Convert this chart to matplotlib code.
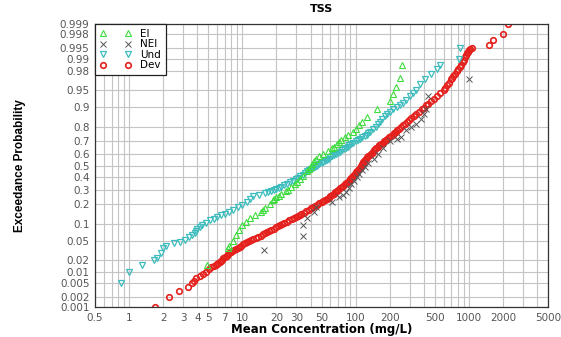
import math
import numpy as np
import matplotlib
matplotlib.use("Agg")
import matplotlib.pyplot as plt
from matplotlib.ticker import FixedLocator, NullLocator, NullFormatter, FixedFormatter

# ---- data (concentration mg/L, exceedance probability) ----
ei_conc = [4.9, 7.4, 7.6, 8.2, 8.8, 9.3, 10, 10.8, 11.8, 13, 14.5, 15.2, 16, 17.5,
           18.5, 19, 20, 21, 22, 24.5, 25.5, 27, 29, 30.5, 32, 34.5, 37, 38.5, 40,
           41.5, 43, 45, 48, 52, 57, 62, 64, 68, 71, 75, 80, 85, 95, 100, 108, 115,
           125, 155, 200, 215, 228, 245, 255]
ei_prob = [0.015, 0.035, 0.040, 0.050, 0.065, 0.080, 0.097, 0.11, 0.125, 0.14, 0.155,
           0.165, 0.175, 0.20, 0.225, 0.235, 0.245, 0.255, 0.265, 0.29, 0.30, 0.32,
           0.345, 0.36, 0.38, 0.41, 0.45, 0.47, 0.49, 0.51, 0.54, 0.555, 0.58, 0.60,
           0.625, 0.65, 0.66, 0.68, 0.695, 0.71, 0.73, 0.75, 0.77, 0.79, 0.81, 0.83,
           0.855, 0.89, 0.92, 0.94, 0.957, 0.972, 0.986]

nei_conc = [15.5, 34, 34, 37, 43, 45, 62, 72, 77, 82, 88, 92, 97, 103, 108, 115, 122,
            130, 145, 158, 175, 200, 230, 250, 280, 310, 340, 380, 400, 420, 440, 1000]
nei_prob = [0.033, 0.062, 0.097, 0.125, 0.155, 0.18, 0.21, 0.245, 0.26, 0.28, 0.31,
            0.34, 0.37, 0.40, 0.43, 0.46, 0.49, 0.52, 0.56, 0.60, 0.65, 0.70, 0.72,
            0.735, 0.78, 0.80, 0.82, 0.845, 0.87, 0.89, 0.935, 0.97]

und_conc = [0.85, 1.0, 1.3, 1.65, 1.75, 1.9, 2.0, 2.1, 2.5, 2.8, 3.1, 3.4, 3.6, 3.8,
            3.9, 4.0, 4.2, 4.4, 4.8, 5.2, 5.6, 6.0, 6.5, 7.0, 7.6, 8.3, 9.1, 10, 11,
            11.7, 12.5, 14, 16, 18, 20, 22, 25, 28, 31, 34, 37, 40, 44, 48, 52, 56, 60,
            65, 70, 76, 82, 88, 95, 105, 115, 125, 135, 150, 165, 180, 200, 230, 260,
            300, 340, 370, 410, 460, 520, 560, 820, 830,
            17, 19, 21, 23.5, 26.5, 29.5, 32.5, 35.5, 38.5, 42, 46, 50, 54, 58, 62.5,
            67.5, 73, 79, 85, 91.5, 100, 110, 120, 130, 142, 157, 172, 190, 215, 245,
            280, 320]
und_prob = [0.005, 0.010, 0.015, 0.020, 0.022, 0.028, 0.035, 0.040, 0.045, 0.048,
            0.052, 0.058, 0.064, 0.070, 0.076, 0.082, 0.090, 0.097, 0.105, 0.115,
            0.122, 0.130, 0.138, 0.145, 0.155, 0.165, 0.180, 0.195, 0.215, 0.235,
            0.250, 0.26, 0.275, 0.29, 0.305, 0.32, 0.345, 0.37, 0.395, 0.42, 0.45,
            0.47, 0.49, 0.51, 0.53, 0.55, 0.57, 0.59, 0.61, 0.63, 0.65, 0.67, 0.69,
            0.71, 0.73, 0.75, 0.77, 0.80, 0.83, 0.86, 0.88, 0.90, 0.915, 0.935, 0.950,
            0.963, 0.970, 0.977, 0.982, 0.986, 0.990, 0.995,
            0.283, 0.298, 0.312, 0.333, 0.358, 0.383, 0.408, 0.435, 0.46, 0.48, 0.50,
            0.52, 0.54, 0.56, 0.58, 0.60, 0.62, 0.64, 0.66, 0.68, 0.70, 0.72, 0.74,
            0.76, 0.785, 0.815, 0.845, 0.87, 0.89, 0.908, 0.925, 0.943]

dev_conc = [1.7, 2.25, 2.75, 3.3, 3.6, 3.75, 3.9, 4.2, 4.5, 4.8, 5.1, 5.6, 6.0, 6.3,
            6.6, 7.0, 7.5, 7.9, 8.4, 9.1, 9.8, 10.6, 11.4, 12.5, 13.8, 15.2, 16.5, 18,
            19.8, 21.3, 23.5, 26, 28.5, 31, 33, 36.5, 40.5, 44, 48, 52, 56, 60, 64, 68,
            73, 78, 83, 87, 91, 95, 99, 103, 107, 111, 114, 117, 121, 127, 133, 139,
            145, 152, 162, 173, 185, 198, 212, 226, 243, 262, 285, 310, 345, 385, 420,
            460, 520, 600, 640, 690, 720, 780, 830, 890, 930, 970, 1000, 1060, 1500,
            1650, 2000, 2200,
            5.3, 5.8, 6.15, 6.45, 6.8, 7.25, 7.7, 8.15, 8.75, 9.45, 10.2, 11.0, 11.9,
            13.1, 14.5, 15.8, 17.2, 18.9, 20.5, 22.4, 24.7, 27.2, 29.7, 32, 34.7, 38.5,
            42.2, 46, 50, 54, 58, 62, 66, 70.5, 75.5, 80.5, 85, 89, 93, 97, 101, 105,
            109, 112.5, 115.5, 119, 124, 130, 136, 142, 148.5, 157, 167, 179, 191, 205,
            219, 234, 252, 273, 297, 327, 365, 402, 440, 490, 560, 620, 665, 705, 750,
            805, 860, 910, 950, 985, 1030]
dev_prob = [0.001, 0.002, 0.003, 0.004, 0.005, 0.006, 0.007, 0.008, 0.009, 0.010,
            0.012, 0.014, 0.016, 0.018, 0.020, 0.023, 0.026, 0.029, 0.032, 0.036,
            0.040, 0.045, 0.050, 0.055, 0.060, 0.066, 0.072, 0.080, 0.088, 0.096,
            0.105, 0.115, 0.125, 0.135, 0.145, 0.16, 0.175, 0.19, 0.205, 0.22, 0.235,
            0.25, 0.27, 0.29, 0.31, 0.33, 0.35, 0.37, 0.39, 0.41, 0.43, 0.45, 0.47,
            0.49, 0.51, 0.53, 0.55, 0.57, 0.59, 0.61, 0.63, 0.65, 0.67, 0.69, 0.71,
            0.73, 0.75, 0.77, 0.79, 0.81, 0.83, 0.85, 0.87, 0.89, 0.905, 0.92, 0.935,
            0.95, 0.96, 0.97, 0.975, 0.98, 0.984, 0.988, 0.991, 0.993, 0.994, 0.995,
            0.9957, 0.997, 0.998, 0.999,
            0.013, 0.015, 0.017, 0.019, 0.0215, 0.0245, 0.0275, 0.0305, 0.034, 0.038,
            0.0425, 0.0475, 0.0525, 0.0575, 0.063, 0.069, 0.076, 0.084, 0.092, 0.10,
            0.11, 0.12, 0.13, 0.14, 0.152, 0.167, 0.182, 0.197, 0.212, 0.227, 0.242,
            0.26, 0.28, 0.30, 0.32, 0.34, 0.36, 0.38, 0.40, 0.42, 0.44, 0.46, 0.48,
            0.50, 0.52, 0.54, 0.56, 0.58, 0.60, 0.62, 0.64, 0.66, 0.68, 0.70, 0.72,
            0.74, 0.76, 0.78, 0.80, 0.82, 0.84, 0.86, 0.88, 0.897, 0.912, 0.927, 0.943,
            0.955, 0.965, 0.9725, 0.9775, 0.982, 0.986, 0.9895, 0.992, 0.9935, 0.9945]

x_ticks = [0.5, 1, 2, 3, 4, 5, 7, 10, 20, 30, 50, 100, 200, 500, 1000, 2000, 5000]
x_tick_labels = ["0.5", "1", "2", "3", "4", "5", "7", "10", "20", "30", "50", "100",
                 "200", "500", "1000", "2000", "5000"]
y_ticks = [0.001, 0.002, 0.005, 0.01, 0.02, 0.05, 0.1, 0.2, 0.3, 0.4, 0.5, 0.6, 0.7,
           0.8, 0.9, 0.95, 0.98, 0.99, 0.995, 0.998, 0.999]


# ---- normal probability scale (Acklam inverse normal) ----
_A = [-3.969683028665376e+01, 2.209460984245205e+02, -2.759285104469687e+02,
      1.383577518672690e+02, -3.066479806614716e+01, 2.506628277459239e+00]
_B = [-5.447609879822406e+01, 1.615858368580409e+02, -1.556989798598866e+02,
      6.680131188771972e+01, -1.328068155288572e+01]
_C = [-7.784894002430293e-03, -3.223964580411365e-01, -2.400758277161838e+00,
      -2.549732539343734e+00, 4.374664141464968e+00, 2.938163982698783e+00]
_D = [7.784695709041462e-03, 3.224671290700398e-01, 2.445134137142996e+00,
      3.754408661907416e+00]


def ppf(p):
    p = np.clip(np.asarray(p, dtype=float), 1e-9, 1 - 1e-9)
    plow = 0.02425
    # tails
    ql = np.sqrt(-2 * np.log(np.minimum(p, 1 - p)))
    tail = ((((((_C[0] * ql + _C[1]) * ql + _C[2]) * ql + _C[3]) * ql + _C[4]) * ql + _C[5])
            / ((((_D[0] * ql + _D[1]) * ql + _D[2]) * ql + _D[3]) * ql + 1))
    tail = np.where(p < 0.5, tail, -tail)
    # centre
    q = p - 0.5
    r = q * q
    mid = ((((((_A[0] * r + _A[1]) * r + _A[2]) * r + _A[3]) * r + _A[4]) * r + _A[5]) * q
           / (((((_B[0] * r + _B[1]) * r + _B[2]) * r + _B[3]) * r + _B[4]) * r + 1))
    return np.where((p < plow) | (p > 1 - plow), tail, mid)


_erf = np.vectorize(math.erf)


def cdf(z):
    z = np.asarray(z, dtype=float)
    return 0.5 * (1 + _erf(z / math.sqrt(2)))


fig = plt.figure(figsize=(5.61, 3.37), dpi=100)
ax = fig.add_axes([95 / 561, 30 / 337, 453 / 561, 283 / 337])

ax.set_xscale("log")
ax.set_yscale("function", functions=(ppf, cdf))

ax.plot(ei_conc, ei_prob, ls="none", marker="^", ms=4, mfc="none", mec="#3ddc3d",
        mew=0.8, label="EI", zorder=4)
ax.plot(nei_conc, nei_prob, ls="none", marker="x", ms=4, color="#555555",
        mew=0.7, label="NEI", zorder=5)
ax.plot(und_conc, und_prob, ls="none", marker="v", ms=4, mfc="none", mec="#3cbcbc",
        mew=0.9, label="Und", zorder=3)
ax.plot(dev_conc, dev_prob, ls="none", marker="o", ms=4, mfc="none", mec="#e5201c",
        mew=1.2, label="Dev", zorder=2)

ax.set_xlim(0.5, 5000)
ax.set_ylim(0.001, 0.999)

ax.xaxis.set_major_locator(FixedLocator(x_ticks))
ax.xaxis.set_major_formatter(FixedFormatter(x_tick_labels))
minor_x = [m * 10.0 ** e for e in range(-1, 4) for m in range(1, 10)
           if 0.5 <= m * 10.0 ** e <= 5000]
ax.xaxis.set_minor_locator(FixedLocator(minor_x))
ax.xaxis.set_minor_formatter(NullFormatter())
ax.yaxis.set_major_locator(FixedLocator(y_ticks))
ax.yaxis.set_major_formatter(FixedFormatter([f"{v:g}" for v in y_ticks]))
ax.yaxis.set_minor_locator(NullLocator())

ax.grid(which="both", axis="x", color="#c4c4c4", lw=0.8)
ax.grid(which="major", axis="y", color="#c4c4c4", lw=0.8)
ax.set_axisbelow(True)
ax.tick_params(which="both", length=0, labelsize=7.5, labelcolor="#555555", pad=4)

for s in ax.spines.values():
    s.set_color("#333333")
    s.set_linewidth(0.9)

ax.set_title("TSS", fontsize=8, fontweight="bold", pad=9)
ax.set_xlabel("Mean Concentration (mg/L)", fontsize=8.5, fontweight="bold", labelpad=0)
ax.set_ylabel("Exceedance Probability", fontsize=8.5, fontweight="bold", labelpad=24,
              family=["Liberation Sans Narrow", "Liberation Sans", "DejaVu Sans"])

leg = ax.legend(loc="upper left", numpoints=2, borderaxespad=0, fontsize=7.5,
                fancybox=False, edgecolor="#222222", framealpha=1, handlelength=3.0,
                labelspacing=0.05, borderpad=0.45, handletextpad=0.9)
leg.get_frame().set_linewidth(0.9)

fig.savefig("out.png", dpi=100)
